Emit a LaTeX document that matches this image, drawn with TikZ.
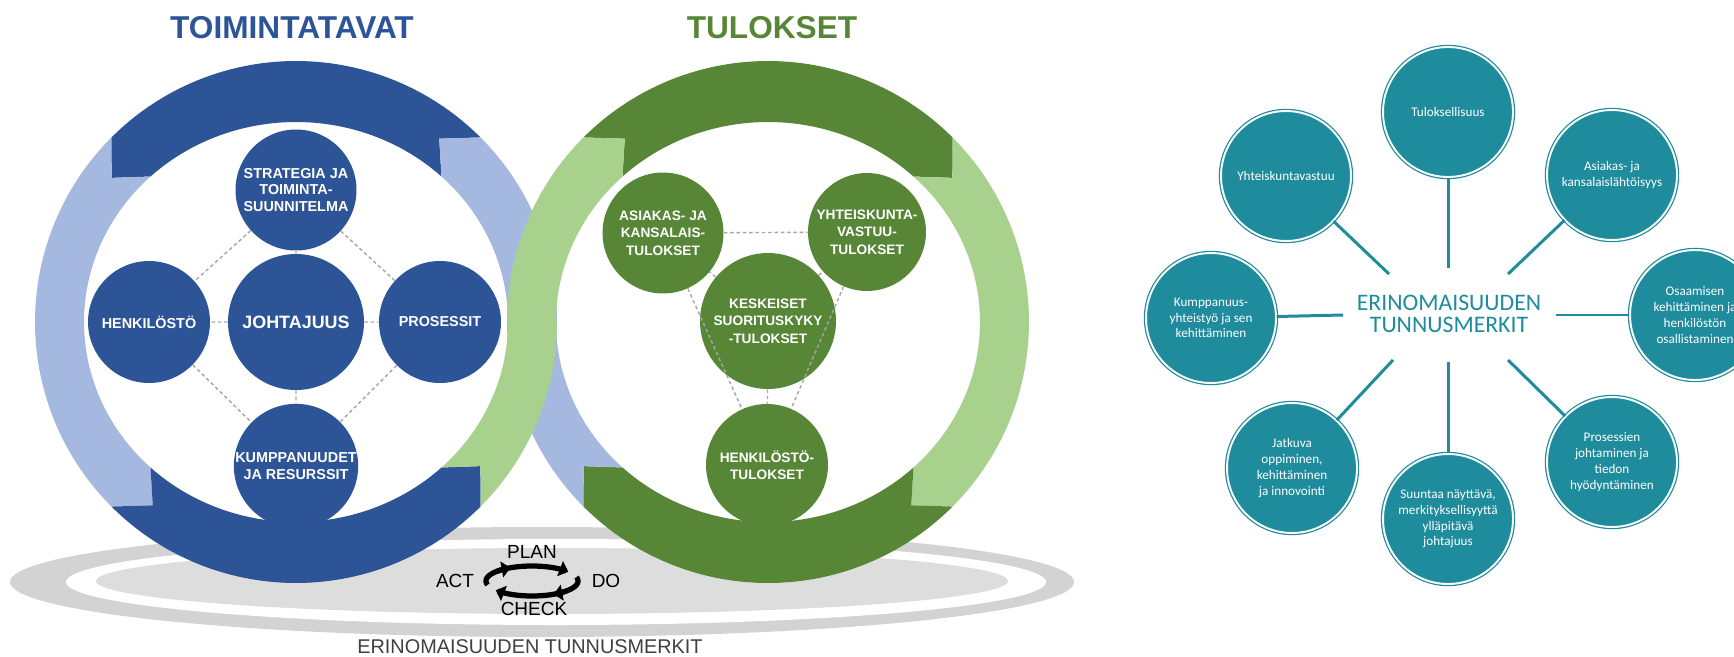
\documentclass[tikz,border=0pt]{standalone}
\usepackage{fontspec}
\setmainfont{Liberation Sans}
\newfontfamily\carlito{Carlito}
\usetikzlibrary{arrows.meta}
\definecolor{dblue}{HTML}{2D5496}
\definecolor{lblue}{HTML}{A5B8DF}
\definecolor{dgreen}{HTML}{578637}
\definecolor{lgreen}{HTML}{A9D18E}
\definecolor{teal1}{HTML}{1E8C9C}
\definecolor{dashgrey}{HTML}{A6A6A6}
\definecolor{ellgreyA}{HTML}{D3D3D3}
\definecolor{ellgreyB}{HTML}{DDDDDD}
% ring segment: cx, cy, start angle, end angle, colour, start tip offset, end tip offset
\newcommand{\ringseg}[7]{%
  \fill[#5] plot[domain=#3:#4, samples=60, variable=\t] ({#1+261*cos(\t)},{#2-261*sin(\t)})
    -- ({#1+(261+rin(#4#7))/2*cos(#4#7)},{#2-(261+rin(#4#7))/2*sin(#4#7)})
    -- plot[domain=#4:#3, samples=60, variable=\t] ({#1+rin(\t)*cos(\t)},{#2-rin(\t)*sin(\t)})
    -- ({#1+(261+rin(#3#6))/2*cos(#3#6)},{#2-(261+rin(#3#6))/2*sin(#3#6)})
    -- cycle;}
\begin{document}
\begin{tikzpicture}[x=0.02cm, y=-0.02cm,
  declare function={rin(\a)=100*2.12*2.0/sqrt((2.0*cos(\a))^2+(2.12*sin(\a))^2);},
  title/.style={font=\fontsize{18}{20}\selectfont\bfseries},
  bnode/.style={circle, fill=dblue, text=white, inner sep=0pt, align=center,
    font=\fontsize{8.2}{9.6}\selectfont\bfseries},
  gnode/.style={circle, fill=dgreen, text=white, inner sep=0pt, align=center,
    font=\fontsize{7.8}{10}\selectfont\bfseries},
  dline/.style={draw=dashgrey, line width=0.8pt, dash pattern=on 2pt off 1.6pt},
  pdca/.style={font=\fontsize{10.8}{12}\selectfont, text=black, inner sep=1pt},
  cyc/.style={line width=3pt, -{Triangle[length=5pt, width=9pt]}},
  tnode/.style={circle, fill=teal1, draw=teal1, double=white, double distance=1.1pt,
    line width=0.7pt, text=white, inner sep=0pt, align=center, minimum size=2.6cm,
    font=\carlito\fontsize{7.5}{9}\selectfont},
  tline/.style={draw=teal1, line width=1.7pt}]
\clip (0,0) rectangle (1734,656);
\fill[white] (0,0) rectangle (1734,656);

% base ellipse
\fill[ellgreyA] (542,582) ellipse [x radius=532, y radius=55];
\fill[white] (556,582) ellipse [x radius=490, y radius=43];
\fill[ellgreyB] (552,581) ellipse [x radius=456, y radius=33];

% titles
\node[title, text=dblue] (t1) at (292,28) {TOIMINTATAVAT};
\node[title, text=dgreen] (t2) at (772,28) {TULOKSET};

% blue ring
\ringseg{296}{322}{45}{135}{dblue}{+7}{+7}
\ringseg{296}{322}{135}{225}{lblue}{+7}{+7}
\ringseg{296}{322}{225}{315}{dblue}{+7}{+7}
% green ring
\ringseg{768}{322}{135}{45}{dgreen}{-7}{-7}
\ringseg{768}{322}{45}{-45}{lgreen}{-7}{-7}
\ringseg{768}{322}{-45}{-135}{dgreen}{-7}{-7}
% crossing bands: blue below, green on top
\ringseg{296}{322}{0}{45}{lblue}{+0}{+7}
\ringseg{768}{322}{-135}{-180}{lblue}{-7}{+0}
\ringseg{296}{322}{-45}{0}{lgreen}{+7}{+0}
\ringseg{768}{322}{180}{135}{lgreen}{+0}{-7}

% blue nodes
\node[bnode, minimum size=2.42cm] (strat) at (296,190) {STRATEGIA JA\\TOIMINTA-\\SUUNNITELMA};
\node[bnode, minimum size=2.44cm] (henk) at (149,322) {HENKILÖSTÖ};
\node[bnode, minimum size=2.72cm, font=\fontsize{10.2}{12}\selectfont\bfseries] (joht) at (296,322) {JOHTAJUUS};
\node[bnode, minimum size=2.44cm] (pros) at (440,322) {PROSESSIT};
\node[bnode, minimum size=2.48cm] (kump) at (296,466) {KUMPPANUUDET\\JA RESURSSIT};
\path[dline] (strat) -- (henk) (strat) -- (pros) (henk) -- (kump) (pros) -- (kump)
  (joht) -- (strat) (joht) -- (henk) (joht) -- (pros) (joht) -- (kump);

% green nodes
\node[gnode, minimum size=2.42cm] (asi) at (663,233) {ASIAKAS- JA\\KANSALAIS-\\TULOKSET};
\node[gnode, minimum size=2.36cm] (yht) at (867,232) {YHTEISKUNTA-\\VASTUU-\\TULOKSET};
\node[gnode, minimum size=2.72cm] (kes) at (768,321) {KESKEISET\\SUORITUSKYKY\\-TULOKSET};
\node[gnode, minimum size=2.44cm] (hent) at (767,465) {HENKILÖSTÖ-\\TULOKSET};
\path[dline] (asi) -- (yht) (asi) -- (hent) (yht) -- (hent)
  (kes) -- (asi) (kes) -- (yht) (kes) -- (hent);

% PDCA
\node[pdca] (plan) at (532,552) {PLAN};
\node[pdca] (do) at (606,581) {DO};
\node[pdca] (check) at (534,609) {CHECK};
\node[pdca] (act) at (455,581) {ACT};
\draw[cyc] plot[domain=140:38, samples=25, variable=\t] ({532+46*cos(\t)},{581-15*sin(\t)});
\draw[cyc] plot[domain=15:-62, samples=25, variable=\t] ({532+46*cos(\t)},{581-15*sin(\t)});
\draw[cyc] plot[domain=-42:-142, samples=25, variable=\t] ({532+46*cos(\t)},{581-15*sin(\t)});
\draw[cyc] plot[domain=195:118, samples=25, variable=\t] ({532+46*cos(\t)},{581-15*sin(\t)});

\node[font=\fontsize{11.3}{13}\selectfont, text=black!75] (erin) at (530,647) {ERINOMAISUUDEN TUNNUSMERKIT};

% right diagram
\node[text=teal1, align=center, font=\carlito\fontsize{13.5}{12.5}\selectfont] (cent) at (1449,314) {ERINOMAISUUDEN\\TUNNUSMERKIT};
\node[tnode] (n1) at (1448,112) {Tuloksellisuus};
\node[tnode] (n2) at (1612,175) {Asiakas- ja\\kansalaislähtöisyys};
\node[tnode] (n3) at (1695,315) {Osaamisen\\kehittäminen ja\\henkilöstön\\osallistaminen};
\node[tnode] (n4) at (1612,462) {Prosessien\\johtaminen ja\\tiedon\\hyödyntäminen};
\node[tnode] (n5) at (1448,519) {Suuntaa näyttävä,\\merkityksellisyyttä\\ylläpitävä\\johtajuus};
\node[tnode] (n6) at (1292,468) {Jatkuva\\oppiminen,\\kehittäminen\\ja innovointi};
\node[tnode] (n7) at (1211,318) {Kumppanuus-\\yhteistyö ja sen\\kehittäminen};
\node[tnode] (n8) at (1286,176) {Yhteiskuntavastuu};
\coordinate (c1) at (1448,268);
\coordinate (c2) at (1508,274);
\coordinate (c3) at (1556,315);
\coordinate (c4) at (1508,360);
\coordinate (c5) at (1448,362);
\coordinate (c6) at (1393,360);
\coordinate (c7) at (1343,315);
\coordinate (c8) at (1389,274);
\draw[tline] (c1) -- (n1);
\draw[tline] (c2) -- (n2);
\draw[tline] (c3) -- (n3);
\draw[tline] (c4) -- (n4);
\draw[tline] (c5) -- (n5);
\draw[tline] (c6) -- (n6);
\draw[tline] (c7) -- (n7);
\draw[tline] (c8) -- (n8);
\end{tikzpicture}
\end{document}
